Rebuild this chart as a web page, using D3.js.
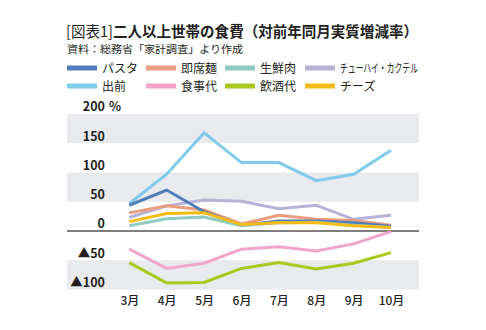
<!doctype html>
<html lang="ja">
  <head>
    <meta charset="utf-8">
    <title>二人以上世帯の食費</title>
    <style>
      * {
        box-sizing: border-box;
      }

      body {
        margin: 0;
        background: #fff;
        font-family: "Noto Sans CJK JP", "Noto Sans", sans-serif;
      }

      svg text {
        fill: #231f20;
      }
    </style>
  </head>
  <body>
    <div id="chart"></div>

    <script src="https://cdn.jsdelivr.net/npm/d3@7"></script>
    <script>
      const months = ['3月', '4月', '5月', '6月', '7月', '8月', '9月', '10月']

      const pasta = [44, 70, 33, 10, 17, 17, 14, 8]
      const instantNoodles = [31, 43, 36, 12, 27, 20, 18, 10]
      const freshMeat = [9, 21, 24, 9, 14, 15, 10, 6]
      const chuhai = [23, 43, 53, 51, 38, 44, 20, 27]
      const delivery = [47, 97, 168, 117, 117, 86, 97, 138]
      const eatingOut = [-31, -64, -55, -31, -27, -34, -22, -1]
      const drinkingOut = [-54, -89, -88, -64, -54, -65, -55, -37]
      const cheese = [16, 30, 31, 11, 14, 14, 9, 6]

      const yTicks = [200, 150, 100, 50, 0, -50, -100]
      const bands = [[150, 200], [50, 100], [-100, -50]]

      const series = [
        { name: 'パスタ', values: pasta, color: '#4f7dba' },
        { name: '即席麺', values: instantNoodles, color: '#ee9c80' },
        { name: '生鮮肉', values: freshMeat, color: '#8fcbbf' },
        { name: 'チューハイ・カクテル', values: chuhai, color: '#b6b2d8' },
        { name: '出前', values: delivery, color: '#80cbec' },
        { name: '食事代', values: eatingOut, color: '#f1a5c9' },
        { name: '飲酒代', values: drinkingOut, color: '#a9c91f' },
        { name: 'チーズ', values: cheese, color: '#f6bb15' }
      ]

      // draw order: front-most lines last
      const drawOrder = ['出前', 'チューハイ・カクテル', '即席麺', 'パスタ', '生鮮肉', 'チーズ', '食事代', '飲酒代']

      const width = 486
      const height = 330
      const plotLeft = 67
      const plotRight = 419

      const svg = d3.select('#chart')
        .append('svg')
          .attr('width', width)
          .attr('height', height)

      const x = d3.scalePoint()
        .domain(months)
        .range([129.3, 391])

      const y = d3.scaleLinear()
        .domain([-100, 200])
        .range([289.5, 114])

      // title
      const title = svg.append('text')
        .attr('x', 66)
        .attr('y', 37)
        .attr('font-size', 15)
        .attr('textLength', 352)
        .attr('lengthAdjust', 'spacingAndGlyphs')
      title.append('tspan')
        .attr('font-weight', 400)
        .text('[図表1]')
      title.append('tspan')
        .attr('font-weight', 700)
        .text('二人以上世帯の食費（対前年同月実質増減率）')

      svg.append('text')
        .attr('x', 67)
        .attr('y', 52.5)
        .attr('font-size', 10.5)
        .attr('textLength', 176)
        .attr('lengthAdjust', 'spacingAndGlyphs')
        .text('資料：総務省「家計調査」より作成')

      // legend, 4 columns x 2 rows
      const legendCols = [67, 146, 225, 305]
      const legendRows = [68, 86]
      const legend = svg.append('g')
      series.forEach((s, i) => {
        const lx = legendCols[i % 4]
        const ly = legendRows[Math.floor(i / 4)]
        legend.append('rect')
          .attr('x', lx)
          .attr('y', ly - 2.5)
          .attr('width', 30)
          .attr('height', 5)
          .attr('fill', s.color)
        const t = legend.append('text')
          .attr('x', lx + 35)
          .attr('y', ly + 4.5)
          .attr('font-size', 12)
          .text(s.name)
        if (s.name.length > 4) {
          t.attr('textLength', 78).attr('lengthAdjust', 'spacingAndGlyphs')
        }
      })

      // shaded bands
      svg.append('g')
        .selectAll('rect')
        .data(bands)
        .join('rect')
          .attr('x', plotLeft)
          .attr('width', plotRight - plotLeft)
          .attr('y', d => y(d[1]))
          .attr('height', d => y(d[0]) - y(d[1]))
          .attr('fill', '#e8eaed')

      // y labels
      const yAxis = d3.axisLeft(y)
        .tickValues(yTicks)
        .tickSize(0)
        .tickPadding(0)
        .tickFormat(d => d < 0 ? '▲' + Math.abs(d) : String(d))

      const yg = svg.append('g')
        .attr('transform', 'translate(105, 0)')
        .call(yAxis)
      yg.select('.domain').remove()
      yg.selectAll('text')
        .attr('font-family', '"Noto Sans CJK JP", sans-serif')
        .attr('font-size', 12.5)
        .attr('font-weight', 700)
        .attr('fill', '#231f20')
        .attr('dy', '-0.25em')
      yg.selectAll('.tick')
        .filter(d => d === 200)
        .append('text')
          .attr('x', 4)
          .attr('dy', '-0.25em')
          .attr('text-anchor', 'start')
          .attr('font-family', '"Noto Sans CJK JP", sans-serif')
          .attr('font-size', 12.5)
          .attr('font-weight', 700)
          .attr('fill', '#231f20')
          .text('%')

      // zero line
      svg.append('line')
        .attr('x1', plotLeft)
        .attr('x2', plotRight)
        .attr('y1', y(0))
        .attr('y2', y(0))
        .attr('stroke', '#000')
        .attr('stroke-width', 1.2)

      // x labels
      const xAxis = d3.axisBottom(x)
        .tickSize(0)
        .tickPadding(0)
      const xg = svg.append('g')
        .attr('transform', 'translate(0, 305)')
        .call(xAxis)
      xg.select('.domain').remove()
      xg.selectAll('text')
        .attr('font-family', '"Noto Sans CJK JP", sans-serif')
        .attr('font-size', 12)
        .attr('font-weight', 500)
        .attr('fill', '#231f20')
        .attr('dy', 0)

      // lines
      const line = d3.line()
        .x((d, i) => x(months[i]))
        .y(d => y(d))

      const ordered = drawOrder.map(n => series.find(s => s.name === n))
      svg.append('g')
        .selectAll('path')
        .data(ordered)
        .join('path')
          .attr('d', d => line(d.values))
          .attr('fill', 'none')
          .attr('stroke', d => d.color)
          .attr('stroke-width', 3)
          .attr('stroke-linejoin', 'miter')
    </script>
  </body>
</html>
